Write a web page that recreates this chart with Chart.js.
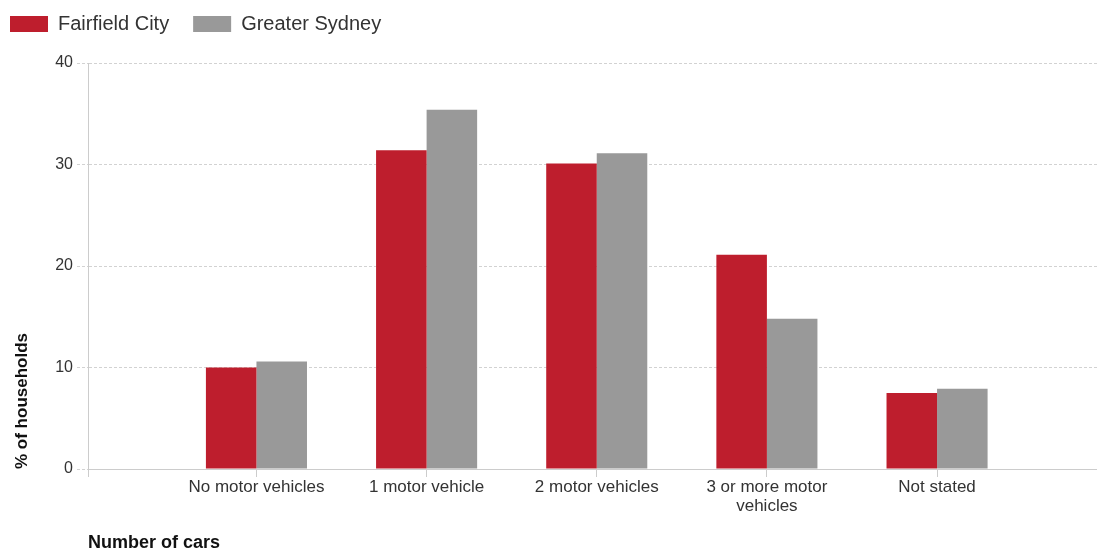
<!DOCTYPE html>
<html><head><meta charset="utf-8">
<script src="https://cdn.jsdelivr.net/npm/chart.js@4.4.1/dist/chart.umd.min.js"></script>
<style>html,body{margin:0;padding:0;background:#fff}#wrap{width:1097px;height:552px;position:relative}</style>
</head><body><div id="wrap"><canvas id="c"></canvas></div>
<script>
const categories = ['No motor vehicles', '1 motor vehicle', '2 motor vehicles', ['3 or more motor', 'vehicles'], 'Not stated'];
const fairfieldCity = [10.0, 31.4, 30.1, 21.1, 7.5];
const greaterSydney = [10.6, 35.4, 31.1, 14.8, 7.9];
const seriesNames = ['Fairfield City', 'Greater Sydney'];
const yTicks = [0, 10, 20, 30, 40];
const xRange = [-0.99, 4.94];

Chart.defaults.font.family = "'Liberation Sans', Arial, sans-serif";
Chart.defaults.color = '#333';

new Chart(document.getElementById('c'), {
  type: 'bar',
  data: {
    datasets: [
      { label: seriesNames[0], data: fairfieldCity.map((v, i) => ({x: i, y: v})), backgroundColor: '#BE1E2D', categoryPercentage: 0.6, barPercentage: 1.0 },
      { label: seriesNames[1], data: greaterSydney.map((v, i) => ({x: i, y: v})), backgroundColor: '#999999', categoryPercentage: 0.6, barPercentage: 1.0 }
    ]
  },
  options: {
    responsive: true,
    maintainAspectRatio: false,
    animation: false,
    layout: { padding: { top: -10, left: -14, right: 0, bottom: 0 } },
    plugins: {
      legend: {
        position: 'top', align: 'start',
        labels: { boxWidth: 38, boxHeight: 16, padding: 24, color: '#333', font: { size: 20 } }
      },
      title: { display: true, text: '', weight: 500, font: { size: 10, lineHeight: 1 }, padding: { top: 9, bottom: 0 } },
      tooltip: { enabled: false }
    },
    scales: {
      x: {
        type: 'linear', min: xRange[0], max: xRange[1], offset: false,
        afterFit: s => { s.height = 83; },
        afterBuildTicks: s => { s.ticks = [{value: xRange[0]}].concat(categories.map((c, i) => ({value: i}))); },
        grid: { offset: false, drawOnChartArea: false, drawTicks: true, tickLength: 8, tickColor: '#cccccc', color: '#cccccc' },
        border: { display: true, color: '#cccccc', width: 1 },
        ticks: {
          autoSkip: false, maxRotation: 0, minRotation: 0, padding: 1, color: '#333', font: { size: 17, lineHeight: 1.1 },
          callback: v => Number.isInteger(v) ? categories[v] : ''
        },
        title: { display: true, text: 'Number of cars', align: 'start', color: '#111', font: { size: 18, weight: 'bold', lineHeight: 1 }, padding: { top: 0, bottom: 0 } }
      },
      y: {
        min: 0, max: 40,
        afterFit: s => { s.width = 102; },
        afterBuildTicks: s => { s.ticks = yTicks.map(v => ({value: v})); },
        grid: { color: '#d2d2d2', tickLength: 11, tickColor: '#d2d2d2', tickBorderDash: [3, 2] },
        border: { display: true, color: '#cccccc', dash: [3, 2] },
        ticks: { padding: 4, color: '#333', font: { size: 16 } },
        title: { display: true, text: '% of households', align: 'start', color: '#111', font: { size: 17, weight: 'bold', lineHeight: 1 }, padding: { top: 28, bottom: 0 } }
      }
    }
  }
});
</script></body></html>
